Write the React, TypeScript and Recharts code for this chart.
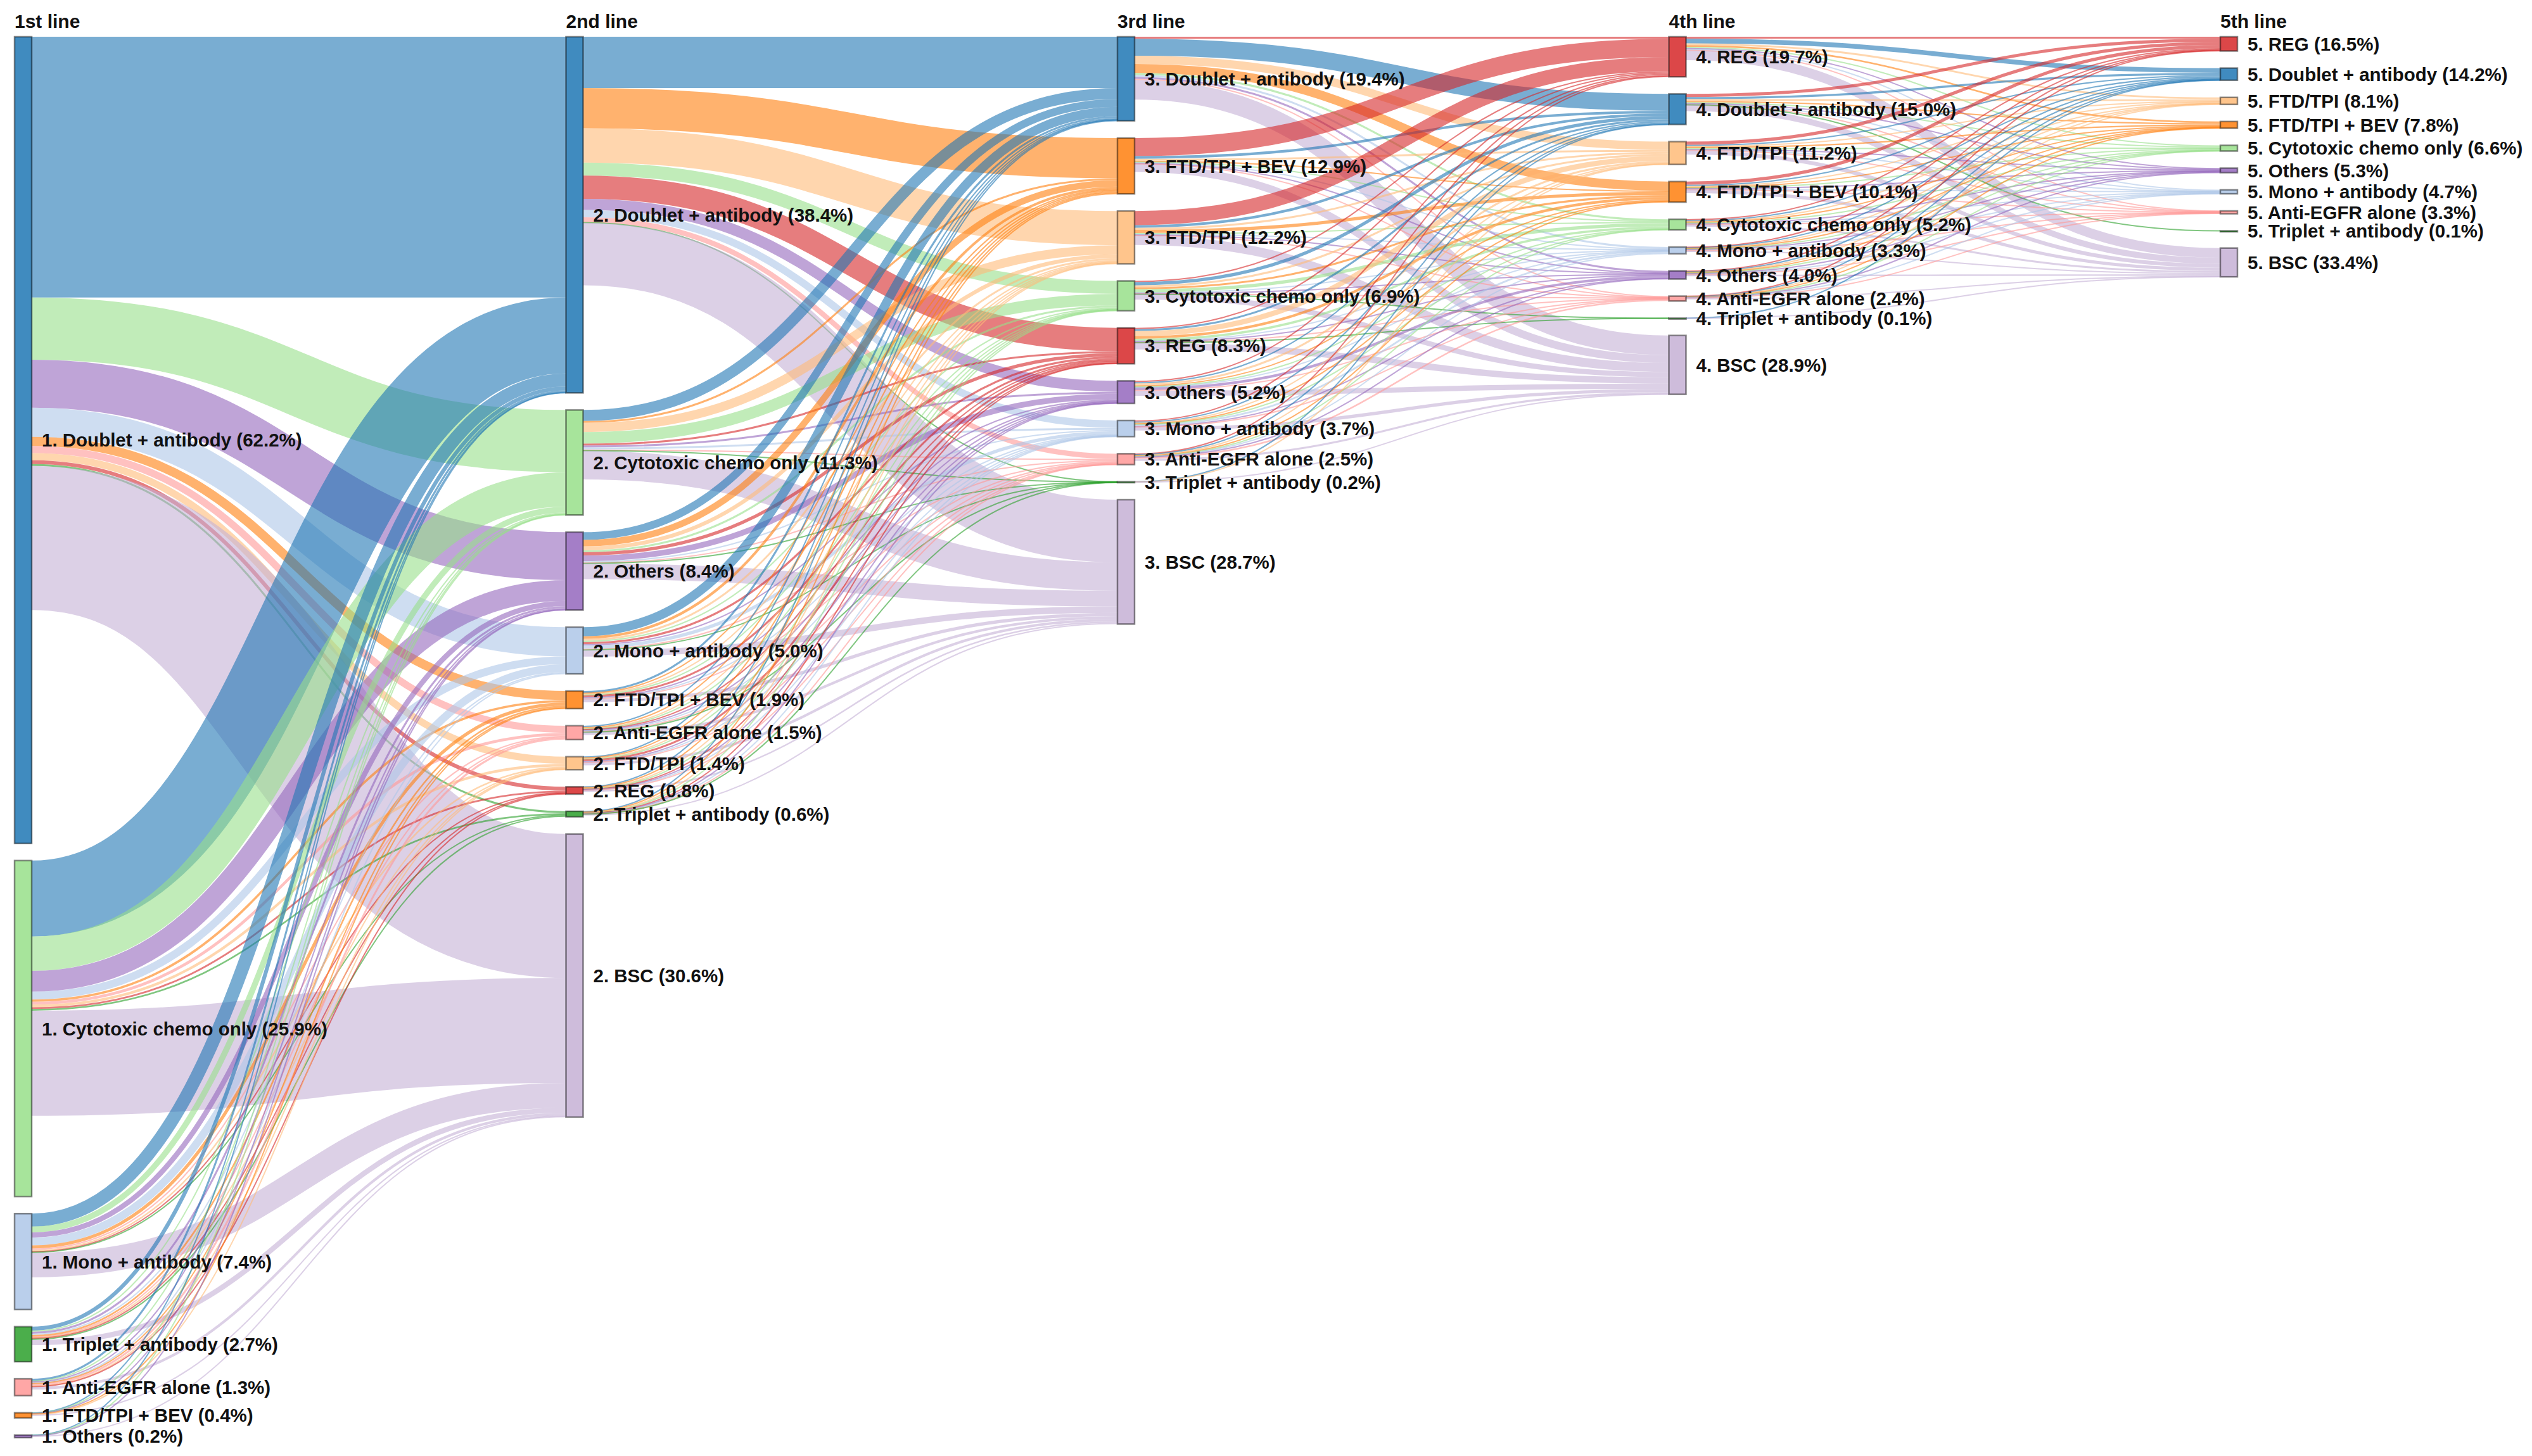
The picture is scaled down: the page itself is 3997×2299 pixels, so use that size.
import { Sankey } from "recharts";

// column headers
const stageTitles = ["1st line", "2nd line", "3rd line", "4th line", "5th line"];

const treatmentColors: Record<string, string> = {
  "Doublet + antibody": "#1f77b4",
  "Cytotoxic chemo only": "#98df8a",
  "Mono + antibody": "#aec7e8",
  "Triplet + antibody": "#2ca02c",
  "Anti-EGFR alone": "#ff9896",
  "FTD/TPI + BEV": "#ff7f0e",
  Others: "#9467bd",
  "FTD/TPI": "#ffbb78",
  REG: "#d62728",
  BSC: "#c5b0d5",
};

// nodes per line of therapy, top to bottom, with the shares printed in the labels
const line1 = ["Doublet + antibody", "Cytotoxic chemo only", "Mono + antibody", "Triplet + antibody", "Anti-EGFR alone", "FTD/TPI + BEV", "Others"];
const line1Pct = [62.2, 25.9, 7.4, 2.7, 1.3, 0.4, 0.2];
// size of the 1st line nodes (per mille of all patients)
const line1Size = [622, 259, 74, 27, 13, 4, 2];

const line2 = ["Doublet + antibody", "Cytotoxic chemo only", "Others", "Mono + antibody", "FTD/TPI + BEV", "Anti-EGFR alone", "FTD/TPI", "REG", "Triplet + antibody", "BSC"];
const line2Pct = [38.4, 11.3, 8.4, 5.0, 1.9, 1.5, 1.4, 0.8, 0.6, 30.6];

const line3 = ["Doublet + antibody", "FTD/TPI + BEV", "FTD/TPI", "Cytotoxic chemo only", "REG", "Others", "Mono + antibody", "Anti-EGFR alone", "Triplet + antibody", "BSC"];
const line3Pct = [19.4, 12.9, 12.2, 6.9, 8.3, 5.2, 3.7, 2.5, 0.2, 28.7];

const line4 = ["REG", "Doublet + antibody", "FTD/TPI", "FTD/TPI + BEV", "Cytotoxic chemo only", "Mono + antibody", "Others", "Anti-EGFR alone", "Triplet + antibody", "BSC"];
const line4Pct = [19.7, 15.0, 11.2, 10.1, 5.2, 3.3, 4.0, 2.4, 0.1, 28.9];

const line5 = ["REG", "Doublet + antibody", "FTD/TPI", "FTD/TPI + BEV", "Cytotoxic chemo only", "Others", "Mono + antibody", "Anti-EGFR alone", "Triplet + antibody", "BSC"];
const line5Pct = [16.5, 14.2, 8.1, 7.8, 6.6, 5.3, 4.7, 3.3, 0.1, 33.4];

// flows: rows = nodes of line n, columns = nodes of line n+1
const flows12 = [
  [201, 48, 37, 22.5, 7, 5.5, 5.5, 3, 1.5, 111],
  [58.6, 26.5, 16, 6, 1.8, 2.2, 2.0, 1.4, 1.3, 81],
  [10, 4.5, 4, 6, 2.5, 1, 1.2, 0.5, 0.5, 19],
  [3, 1, 1.5, 1, 1.3, 0.5, 0.5, 0.5, 1.0, 4],
  [1.5, 0.5, 1, 0.5, 0.5, 1.5, 0.5, 0.3, 0, 2],
  [0.3, 0.2, 0.3, 0, 0.5, 0, 0.3, 0, 0, 0.8],
  [0.2, 0.3, 0.3, 0, 0, 0, 0, 0, 0, 0.5],
];

const flows23 = [
  [39.6, 31, 26.4, 10, 18, 8.5, 5.7, 4.0, 0.2, 48.3],
  [8.5, 1.5, 7, 8.9, 1.5, 1.5, 1.5, 1, 0.1, 22],
  [6, 5, 3, 1.5, 2.5, 4.4, 1, 0.7, 0.1, 12],
  [7, 2, 1.5, 1, 1.6, 1, 2.5, 1, 0.1, 5],
  [1.5, 0.5, 1, 0.5, 1.5, 0.5, 0.5, 0.3, 0, 2.5],
  [1, 1, 0.5, 0.3, 0.5, 0.5, 0.5, 0.8, 0.1, 2],
  [0.5, 0.8, 0.5, 0.3, 1.5, 0.5, 0.3, 0.3, 0, 2],
  [0.3, 0.8, 0.5, 0.3, 0.3, 0.3, 0.2, 0.2, 0, 1.2],
  [0.5, 0.5, 0.3, 0.2, 0.3, 0.2, 0.2, 0.1, 0.1, 0.9],
  [0, 0, 0, 0, 0, 0, 0, 0, 0, 0],
];

const flows34 = [
  [1.6, 13, 6.4, 7, 1.5, 1.5, 1.5, 0.8, 0, 15.2],
  [14, 2, 1.5, 0.9, 0.5, 0.5, 0.5, 0.3, 0, 6],
  [11, 2, 1.5, 2.5, 1, 0.3, 0.5, 0.3, 0, 7],
  [1, 2.5, 1.5, 1.5, 2.5, 0.5, 0.5, 0.3, 0.06, 4],
  [1, 1.5, 4, 2, 1.7, 0.3, 0.7, 0.3, 0.1, 5],
  [1, 1, 1.5, 1, 0.5, 0.3, 2.0, 0.3, 0, 4],
  [0.8, 1, 0.6, 0.5, 0.3, 1.4, 0.3, 0.3, 0, 2.5],
  [0.5, 0.5, 0.5, 0.5, 0.2, 0.4, 0.3, 1.2, 0, 1.5],
  [0, 0.1, 0.1, 0, 0, 0, 0, 0, 0, 0.2],
  [0, 0, 0, 0, 0, 0, 0, 0, 0, 0],
];

const flows45 = [
  [1.5, 3.6, 1.4, 1.3, 1.0, 0.7, 0.8, 0.3, 0, 7.5],
  [2.4, 1.65, 1.4, 1, 0.8, 0.5, 0.5, 0.3, 0.07, 4.65],
  [2.5, 1, 0.5, 1.1, 0.7, 0.5, 0.3, 0.3, 0, 3],
  [2.5, 1, 0.8, 0.5, 0.5, 0.5, 0.3, 0.3, 0, 2.5],
  [0.8, 0.8, 0.5, 0.5, 0.8, 0.3, 0.2, 0.2, 0, 1.5],
  [0.5, 0.5, 0.3, 0.3, 0.2, 0.2, 0.7, 0.2, 0, 1],
  [0.5, 0.5, 0.3, 0.3, 0.3, 0.7, 0.2, 0.2, 0, 1.2],
  [0.3, 0.3, 0.2, 0.2, 0.1, 0.1, 0.1, 0.4, 0, 0.8],
  [0, 0.05, 0, 0, 0, 0, 0, 0, 0, 0.05],
  [0, 0, 0, 0, 0, 0, 0, 0, 0, 0],
];

const columns = [
  { names: line1, pct: line1Pct },
  { names: line2, pct: line2Pct },
  { names: line3, pct: line3Pct },
  { names: line4, pct: line4Pct },
  { names: line5, pct: line5Pct },
];
const transitions = [flows12, flows23, flows34, flows45];

const PAGE_W = 3997;
const PAGE_H = 2299;
const LEFT = 23;
const TOP = 58;
const NODE_W = 27;
const NODE_PAD = 27;
const STEP = 870.5;
const LAYOUT_W = NODE_W + STEP * 4;
const LAYOUT_H = 2320;
const FONT = '"Liberation Sans", Arial, Helvetica, sans-serif';

type SNode = { name: string; color: string; hidden?: boolean };
type SLink = { source: number; target: number; value: number; hidden?: boolean };

// patients who do not go on to a next line are routed into invisible
// sink nodes at the bottom of every column so node heights stay right
function buildData() {
  const nodes: SNode[] = [];
  const links: SLink[] = [];
  const idx: number[][] = columns.map((col, c) =>
    col.names.map((name, i) => {
      nodes.push({ name: `${c + 1}. ${name} (${col.pct[i].toFixed(1)}%)`, color: treatmentColors[name] });
      return nodes.length - 1;
    })
  );
  const sinks = transitions.map(() => {
    nodes.push({ name: "", color: "none", hidden: true });
    return nodes.length - 1;
  });

  let inflow = line1Size.slice();
  let sunk = 0;
  transitions.forEach((m, c) => {
    if (c > 0 && sunk > 0) {
      links.push({ source: sinks[c - 1], target: sinks[c], value: sunk, hidden: true });
    }
    const next = new Array(columns[c + 1].names.length).fill(0);
    m.forEach((row, i) => {
      let out = 0;
      row.forEach((v, j) => {
        if (v > 0) {
          links.push({ source: idx[c][i], target: idx[c + 1][j], value: v });
          out += v;
          next[j] += v;
        }
      });
      const rest = inflow[i] - out;
      if (rest > 1e-6) {
        links.push({ source: idx[c][i], target: sinks[c], value: rest, hidden: true });
        sunk += rest;
      }
    });
    inflow = next;
  });
  return { nodes, links };
}

const data = buildData();

function FlowNode(props: any) {
  const { x, y, width, height, payload } = props;
  if (!payload || payload.hidden) return <g />;
  return (
    <g>
      <rect
        x={x}
        y={y}
        width={width}
        height={Math.max(height, 1.5)}
        fill={payload.color}
        fillOpacity={0.85}
        stroke="#000"
        strokeOpacity={0.45}
        strokeWidth={2.5}
      />
      <text
        x={x + width + 16}
        y={y + height / 2}
        dominantBaseline="central"
        fontFamily={FONT}
        fontWeight="bold"
        fontSize={29.5}
        fill="#111"
      >
        {payload.name}
      </text>
    </g>
  );
}

function FlowLink(props: any) {
  const { sourceX, targetX, sourceY, targetY, sourceControlX, targetControlX, linkWidth, payload } = props;
  if (!payload || payload.hidden) return <g />;
  const color = payload.target && payload.target.color ? payload.target.color : "#999";
  return (
    <path
      d={`M${sourceX},${sourceY}C${sourceControlX},${sourceY} ${targetControlX},${targetY} ${targetX},${targetY}`}
      fill="none"
      stroke={color}
      strokeOpacity={0.6}
      strokeWidth={Math.max(linkWidth, 2)}
    />
  );
}

export default function App() {
  return (
    <div
      style={{
        position: "absolute",
        left: 0,
        top: 0,
        width: PAGE_W,
        height: PAGE_H,
        overflow: "hidden",
        background: "#fff",
      }}
    >
      <Sankey
        width={PAGE_W}
        height={TOP + LAYOUT_H + 4}
        data={data}
        margin={{ top: TOP, left: LEFT, right: PAGE_W - LEFT - LAYOUT_W, bottom: 4 }}
        nodeWidth={NODE_W}
        nodePadding={NODE_PAD}
        iterations={0}
        linkCurvature={0.5}
        sort={false}
        node={(p: any) => <FlowNode {...p} />}
        link={(p: any) => <FlowLink {...p} />}
        isAnimationActive={false}
      />
      <svg
        width={PAGE_W}
        height={60}
        style={{ position: "absolute", left: 0, top: 0, pointerEvents: "none" }}
      >
        {stageTitles.map((t, i) => (
          <text key={t} x={LEFT + i * STEP} y={44} fontFamily={FONT} fontWeight="bold" fontSize={30} fill="#111">
            {t}
          </text>
        ))}
      </svg>
    </div>
  );
}
